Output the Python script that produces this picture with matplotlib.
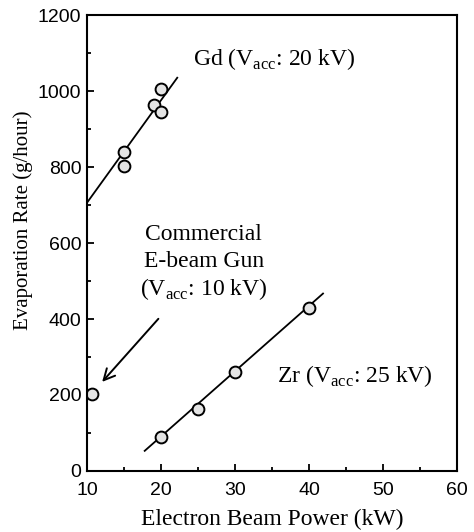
import matplotlib
matplotlib.use("Agg")
import matplotlib.pyplot as plt
from matplotlib.ticker import MultipleLocator

plt.rcParams['mathtext.fontset'] = 'custom'
plt.rcParams['mathtext.rm'] = 'Liberation Serif'

# Data
gd_power = [15, 15, 19, 20, 20]
gd_rate = [840, 802, 964, 1005, 944]
gd_fit_x = [10, 22.2]
gd_fit_y = [706, 1035]

zr_power = [20, 25, 30, 40]
zr_rate = [90, 162, 260, 428]
zr_fit_x = [17.8, 41.9]
zr_fit_y = [53, 467]

comm_power = [10.7]
comm_rate = [203]

x_ticks = [10, 20, 30, 40, 50, 60]
y_ticks = [0, 200, 400, 600, 800, 1000, 1200]

fig = plt.figure(figsize=(4.74, 5.32), dpi=100)
ax = fig.add_axes([0.1835, 0.1147, 0.7805, 0.857])

serif = 'Liberation Serif'
sans = 'Liberation Sans'

ax.plot(gd_fit_x, gd_fit_y, color='black', lw=1.3)
ax.plot(zr_fit_x, zr_fit_y, color='black', lw=1.3)
mk = dict(marker='o', ms=8.5, mfc='#e4e4e4', mec='black', mew=1.4, ls='none')
ax.plot(gd_power, gd_rate, **mk)
ax.plot(zr_power, zr_rate, **mk)
ax.plot(comm_power, comm_rate, **mk)

ax.annotate('', xy=(11.8, 229), xytext=(19.9, 406),
            arrowprops=dict(arrowstyle='->', color='black', lw=1.4,
                            mutation_scale=20))

fs = 17
ax.text(24.3, 1068, r'Gd (V$_{\rm acc}$: 20 kV)', family=serif, fontsize=fs,
        ha='left', va='baseline')
ax.text(25.8, 608, 'Commercial', family=serif, fontsize=fs, ha='center', va='baseline')
ax.text(25.8, 537, 'E-beam Gun', family=serif, fontsize=fs, ha='center', va='baseline')
ax.text(25.8, 463, r'(V$_{\rm acc}$: 10 kV)', family=serif, fontsize=fs,
        ha='center', va='baseline')
ax.text(35.7, 234, r'Zr (V$_{\rm acc}$: 25 kV)', family=serif, fontsize=fs,
        ha='left', va='baseline')

ax.set_xlim(10, 60)
ax.set_ylim(0, 1200)
ax.set_xticks(x_ticks)
ax.set_yticks(y_ticks)
ax.xaxis.set_minor_locator(MultipleLocator(5))
ax.yaxis.set_minor_locator(MultipleLocator(100))
ax.tick_params(which='both', direction='in', top=False, right=False,
               labelsize=14, width=1.3)
ax.tick_params(which='major', length=5)
ax.tick_params(which='minor', length=3)
ax.tick_params(axis='x', which='major', pad=8)
ax.tick_params(axis='y', which='major', pad=4)
for lab in ax.get_xticklabels() + ax.get_yticklabels():
    lab.set_family(sans)
for s in ax.spines.values():
    s.set_linewidth(1.5)

ax.set_xlabel('Electron Beam Power (kW)', family=serif, fontsize=17)
ax.set_ylabel('Evaporation Rate (g/hour)', family=serif, fontsize=15)
ax.xaxis.set_label_coords(0.5, -0.083)
ax.yaxis.set_label_coords(-0.146, 0.55)

fig.savefig('out.png', dpi=100)
